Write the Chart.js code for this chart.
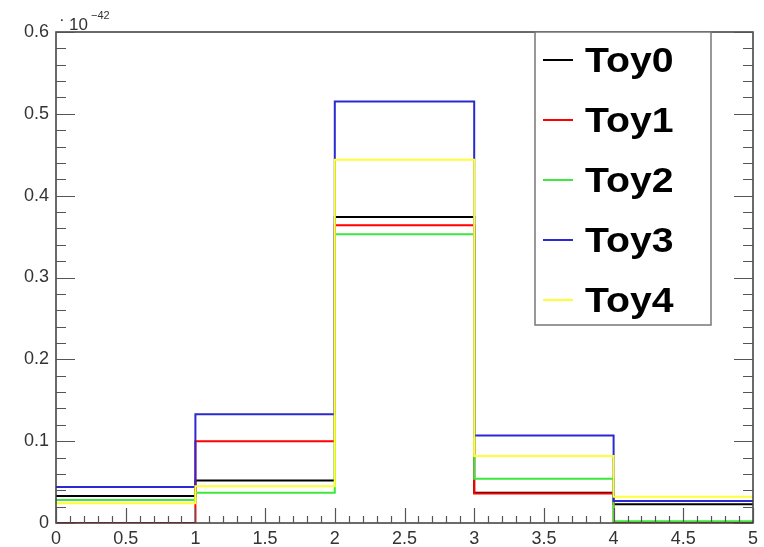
<!DOCTYPE html>
<html>
<head>
<meta charset="utf-8">
<script src="https://cdn.jsdelivr.net/npm/chart.js@4"></script>
<style>
  html, body { margin: 0; padding: 0; background: #ffffff; }
  #wrap { width: 764px; height: 547px; }
</style>
</head>
<body>
<div id="wrap"><canvas id="toyChart" width="764" height="547"></canvas></div>
<script>
// Bin edges and per-bin contents (units of 1e-42)
var binEdges = [0, 1, 2, 3, 4, 5];
var toy0 = [0.033, 0.052, 0.374, 0.037, 0.023];
var toy1 = [0.000, 0.100, 0.364, 0.036, 0.000];
var toy2 = [0.028, 0.037, 0.353, 0.054, 0.002];
var toy3 = [0.044, 0.133, 0.515, 0.107, 0.027];
var toy4 = [0.024, 0.045, 0.444, 0.082, 0.032];

var seriesNames = ['Toy0', 'Toy1', 'Toy2', 'Toy3', 'Toy4'];
var seriesColors = ['#000000', '#ff0000', '#3ce83c', '#2a2ad0', '#ffff33'];

var yTicks = [0, 0.1, 0.2, 0.3, 0.4, 0.5, 0.6];
var xTicks = [0, 0.5, 1, 1.5, 2, 2.5, 3, 3.5, 4, 4.5, 5];

var fontFamily = '"Liberation Sans", Arial, sans-serif';

// histogram outline: one point per lower bin edge, plus the last edge
var toSteps = function(values) {
    var pts = [];
    for (var i = 0; i < values.length; i++) {
        pts.push({x: binEdges[i], y: values[i]});
    }
    pts.push({x: binEdges[values.length], y: values[values.length - 1]});
    return pts;
};

var allSeries = [toy0, toy1, toy2, toy3, toy4];
var datasets = allSeries.map(function(vals, i) {
    return {
        label: seriesNames[i],
        data: toSteps(vals),
        borderColor: seriesColors[i],
        borderWidth: 2,
        stepped: 'before',
        pointRadius: 0,
        fill: false,
        // later histograms are painted over earlier ones
        order: allSeries.length - i
    };
});

// frame, inward tick marks and the exponent label
var framePlugin = {
    id: 'frame',
    afterDatasetsDraw: function(chart) {
        var ctx = chart.ctx;
        var a = chart.chartArea;
        var xs = chart.scales.x;
        var ys = chart.scales.y;
        ctx.save();
        ctx.strokeStyle = '#3a3a3a';
        ctx.lineWidth = 1.5;
        ctx.strokeRect(a.left, a.top, a.right - a.left, a.bottom - a.top);

        ctx.lineWidth = 1.2;
        ctx.strokeStyle = '#555555';
        var v, p, len;
        // y ticks on left and right
        for (var k = 0; k <= 30; k++) {
            v = k * 0.02;
            p = Math.round(ys.getPixelForValue(v)) + 0.5;
            len = (k % 5 === 0) ? 19 : 10;
            ctx.beginPath();
            ctx.moveTo(a.left, p);
            ctx.lineTo(a.left + len, p);
            ctx.moveTo(a.right, p);
            ctx.lineTo(a.right - len, p);
            ctx.stroke();
        }
        // x ticks along the bottom
        for (var j = 0; j <= 50; j++) {
            v = j * 0.1;
            p = Math.round(xs.getPixelForValue(v)) + 0.5;
            len = (j % 5 === 0) ? 15 : 7;
            ctx.beginPath();
            ctx.moveTo(p, a.bottom);
            ctx.lineTo(p, a.bottom - len);
            ctx.stroke();
        }

        // exponent of the y axis
        ctx.fillStyle = '#333333';
        ctx.font = '17px ' + fontFamily;
        ctx.textBaseline = 'alphabetic';
        ctx.fillText('\u00b7', 59, 25);
        ctx.fillText('10', 69, 30);
        ctx.font = '11px ' + fontFamily;
        ctx.fillText('\u221242', 91, 19);
        ctx.restore();
    }
};

// legend box in the upper right
var legendPlugin = {
    id: 'toyLegend',
    afterDraw: function(chart) {
        var ctx = chart.ctx;
        var left = 535, top = 32, right = 711, bottom = 325;
        ctx.save();
        ctx.fillStyle = '#ffffff';
        ctx.fillRect(left, top, right - left, bottom - top);
        ctx.strokeStyle = '#777777';
        ctx.lineWidth = 1.5;
        ctx.strokeRect(left, top, right - left, bottom - top);

        for (var i = 0; i < seriesNames.length; i++) {
            var base = 72 + i * 60;
            ctx.strokeStyle = seriesColors[i];
            ctx.lineWidth = 2;
            ctx.beginPath();
            ctx.moveTo(543, base - 12);
            ctx.lineTo(573, base - 12);
            ctx.stroke();

            // bold labels, slightly widened
            ctx.save();
            ctx.translate(585, base);
            ctx.scale(1.12, 1);
            ctx.font = 'bold 35px ' + fontFamily;
            ctx.textBaseline = 'alphabetic';
            ctx.fillStyle = '#000000';
            ctx.fillText(seriesNames[i], 0, 0);
            ctx.restore();
        }
        ctx.restore();
    }
};

new Chart(document.getElementById('toyChart'), {
    type: 'line',
    data: {datasets: datasets},
    options: {
        responsive: false,
        animation: false,
        layout: {
            padding: {top: 32, right: 11, left: 0, bottom: 0}
        },
        scales: {
            x: {
                type: 'linear',
                min: 0,
                max: 5,
                grid: {display: false, drawTicks: false, tickLength: 0},
                border: {display: false},
                afterFit: function(scale) {
                    scale.height = 24;
                },
                afterBuildTicks: function(scale) {
                    scale.ticks = xTicks.map(function(t) {
                        return {value: t};
                    });
                },
                ticks: {
                    autoSkip: false,
                    maxRotation: 0,
                    padding: 5,
                    color: '#333333',
                    font: {family: fontFamily, size: 18},
                    callback: function(value) {
                        return String(value);
                    }
                }
            },
            y: {
                min: 0,
                max: 0.6,
                grid: {display: false, drawTicks: false, tickLength: 0},
                border: {display: false},
                afterFit: function(scale) {
                    scale.width = 56;
                },
                afterBuildTicks: function(scale) {
                    scale.ticks = yTicks.map(function(t) {
                        return {value: t};
                    });
                },
                ticks: {
                    padding: 7,
                    color: '#333333',
                    font: {family: fontFamily, size: 18},
                    callback: function(value) {
                        return String(Math.round(value * 10) / 10);
                    }
                }
            }
        },
        plugins: {
            legend: {display: false},
            tooltip: {enabled: false}
        }
    },
    plugins: [framePlugin, legendPlugin]
});
</script>
</body>
</html>
